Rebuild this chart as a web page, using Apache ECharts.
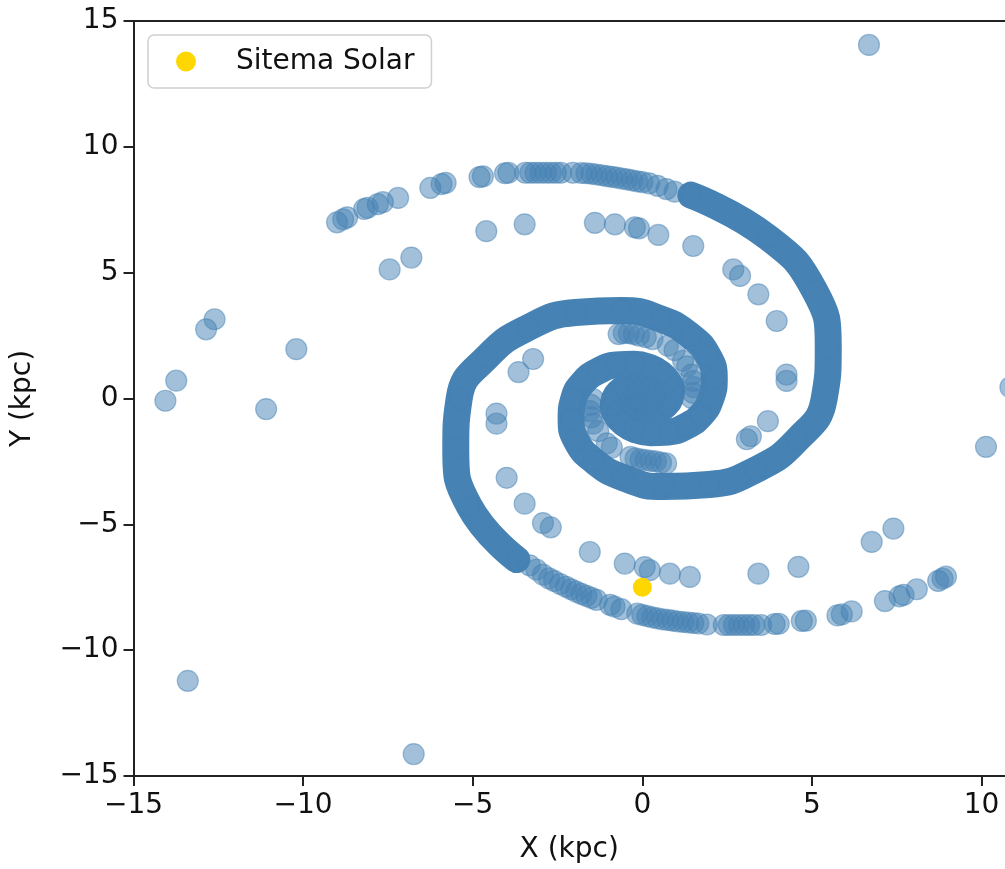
<!DOCTYPE html>
<html>
<head>
<meta charset="utf-8">
<script src="https://cdn.jsdelivr.net/npm/echarts@6/dist/echarts.min.js"></script>
<style>
html,body{margin:0;padding:0;background:#fff;}
#chart{width:1005px;height:869px;}
</style>
</head>
<body>
<div id="chart"></div>
<script>
// ---- tick labels ----
const xTicks = [-15, -10, -5, 0, 5, 10];
const yTicks = [-15, -10, -5, 0, 5, 10, 15];
const xVisibleMax = 10.69; // the picture is cut just past x = 10

// ---- dense arm B (centre -> out, passing the right side) ----
const armBDense = [[0.12,0.00],[0.13,0.05],[0.12,0.10],[0.085,0.15],[0.03,0.19],[-0.04,0.21],[-0.12,0.20],[-0.20,0.17],[-0.27,0.10],[-0.32,0.00],[-0.33,-0.12],[-0.30,-0.25],[-0.22,-0.38],[-0.08,-0.48],[0.09,-0.53],[0.30,-0.52],[0.51,-0.43],[0.69,-0.25],[0.82,0.00],[0.86,0.31],[0.77,0.65],[0.56,0.97],[0.22,1.23],[-0.24,1.36],[-0.77,1.33],[-1.29,1.10],[-1.74,0.65],[-2.02,0.00],[-2.10,-0.80],[-1.95,-1.67],[-1.42,-2.49],[-0.56,-3.15],[0.62,-3.50],[1.97,-3.42],[3.36,-2.82],[4.55,-1.66],[5.36,0.00],[5.48,2.00],[5.08,4.28],[3.70,6.40],[1.43,8.08]];

// ---- dense arm A (centre -> out, passing the left side) ----
const armADense = [[-0.12,0.00],[-0.13,-0.05],[-0.12,-0.10],[-0.085,-0.15],[-0.03,-0.19],[0.04,-0.21],[0.12,-0.20],[0.20,-0.17],[0.27,-0.10],[0.32,0.00],[0.33,0.12],[0.30,0.25],[0.22,0.38],[0.08,0.48],[-0.09,0.53],[-0.30,0.52],[-0.51,0.43],[-0.69,0.25],[-0.82,0.00],[-0.86,-0.31],[-0.77,-0.65],[-0.56,-0.97],[-0.22,-1.23],[0.24,-1.36],[0.77,-1.33],[1.29,-1.10],[1.74,-0.65],[2.02,0.00],[2.12,0.80],[1.95,1.67],[1.42,2.49],[0.56,3.15],[-0.62,3.50],[-1.97,3.42],[-3.36,2.82],[-4.57,1.66],[-5.40,0.00],[-5.50,-2.00],[-5.10,-4.28],[-3.70,-6.40]];

// ---- sparse outer part of arm B (top) ----
const armBOuter = [[0.95,8.22],[0.71,8.32],[0.45,8.45],[0.2,8.55],[0.0,8.6],[-0.15,8.63],[-0.3,8.67],[-0.45,8.71],[-0.6,8.74],[-0.75,8.78],[-0.9,8.81],[-1.05,8.84],[-1.2,8.87],[-1.35,8.9],[-1.5,8.93],[-1.65,8.95],[-1.8,8.96],[-2.05,8.97],[-2.4,8.97],[-2.55,8.97],[-2.7,8.97],[-2.85,8.97],[-3.0,8.97],[-3.15,8.97],[-3.3,8.97],[-3.45,8.97],[-3.95,8.97],[-4.05,8.95],[-4.7,8.83],[-4.8,8.8],[-5.8,8.57],[-5.92,8.52],[-6.25,8.37],[-7.2,7.97],[-7.65,7.8],[-7.8,7.72],[-8.1,7.58],[-8.2,7.53],[-8.7,7.2],[-8.82,7.12],[-9.0,7.0]];

// ---- sparse outer part of arm A (bottom) ----
const armAOuter = [[-3.32,-6.63],[-3.12,-6.8],[-2.93,-7.0],[-2.75,-7.15],[-2.6,-7.25],[-2.42,-7.37],[-2.25,-7.48],[-2.1,-7.58],[-1.95,-7.67],[-1.8,-7.76],[-1.65,-7.84],[-1.5,-7.92],[-1.35,-8.0],[-0.95,-8.2],[-0.82,-8.27],[-0.62,-8.37],[-0.15,-8.55],[0.0,-8.6],[0.15,-8.65],[0.3,-8.7],[0.45,-8.74],[0.6,-8.78],[0.75,-8.8],[0.9,-8.83],[1.05,-8.86],[1.2,-8.88],[1.35,-8.9],[1.5,-8.92],[1.65,-8.94],[1.9,-8.98],[2.4,-9.0],[2.55,-9.0],[2.7,-9.0],[2.85,-9.0],[3.0,-9.0],[3.15,-9.0],[3.3,-9.0],[3.5,-9.0],[3.9,-8.96],[4.02,-8.95],[4.7,-8.84],[4.82,-8.83],[5.75,-8.62],[5.88,-8.58],[6.17,-8.46],[7.15,-8.05],[7.58,-7.86],[7.7,-7.8],[8.09,-7.58],[8.72,-7.25],[8.85,-7.16],[8.95,-7.08]];

// ---- scattered stars inside the two crescent gaps around the core ----
const gapStars = [[-0.7,2.56],[-0.55,2.6],[-0.4,2.6],[-0.25,2.56],[-0.1,2.5],[0.1,2.44],[0.3,2.36],[0.75,2.1],[0.95,1.92],[1.2,1.5],[1.32,1.28],[1.45,0.95],[1.5,0.7],[1.52,0.45],[1.5,0.22],[1.45,0.02],
  [-1.45,-0.02],[-1.52,-0.25],[-1.55,-0.5],[-1.5,-0.75],[-1.45,-1.0],[-1.3,-1.3],[-1.05,-1.78],[-0.9,-1.95],[-0.35,-2.32],[-0.2,-2.38],[-0.05,-2.42],[0.1,-2.45],[0.25,-2.48],[0.4,-2.5],[0.55,-2.55],[0.7,-2.58]];

// ---- second row of stars between the arms ----
const midStars = [[-3.22,1.57],[-3.65,1.05],[-4.3,-0.6],[-4.3,-1.0],[-4.0,-3.15],[-3.47,-4.18],[-2.93,-4.95],[-2.7,-5.12],[3.96,3.08],[4.25,0.95],[4.25,0.7],[3.7,-0.9],[3.2,-1.5],[3.08,-1.62],[-4.6,6.65],[-3.47,6.92],[-1.4,6.98],[-0.81,6.92],[-0.22,6.8],[-0.1,6.76],[0.47,6.5],[1.5,6.06],[2.68,5.13],[2.88,4.87],[3.42,4.14],[-1.55,-6.1],[-0.52,-6.56],[0.07,-6.7],[0.22,-6.82],[0.81,-6.96],[1.4,-7.09],[3.42,-6.96],[4.6,-6.69],[6.76,-5.7],[7.4,-5.17],[-7.45,5.13],[-6.81,5.6]];

// ---- far outliers ----
const farStars = [[6.68,14.05],[10.13,-1.92],[10.85,0.45],[-12.61,3.15],[-12.86,2.75],[-10.2,1.96],[-13.74,0.71],[-14.06,-0.09],[-11.09,-0.42],[-13.4,-11.22],[-6.74,-14.13]];

// ---- solar system ----
const solarSystem = [[0, -7.5]];

const BLUE = '#4682B4';
const FONT = 'DejaVu Sans';
const TXT = '#111111';
const AX = '#222222';
const fmt = v => String(v).replace('-', '\u2212');

const chart = echarts.init(document.getElementById('chart'), null, {renderer: 'canvas'});

const starStyle = {color: BLUE, opacity: 0.5, borderColor: BLUE, borderWidth: 1.2};

function armLine(data) {
  return {
    type: 'line', data: data, smooth: true, showSymbol: false, silent: true,
    lineStyle: {color: BLUE, width: 27, cap: 'round', join: 'round'},
    z: 1
  };
}
function stars(data, clip) {
  return {
    type: 'scatter', data: data, symbol: 'circle', symbolSize: 21, silent: true,
    clip: clip !== false, itemStyle: starStyle, z: 2
  };
}

chart.setOption({
  animation: false,
  backgroundColor: '#ffffff',
  grid: {left: 133.5, top: 21, bottom: 91, right: 0, show: false, containLabel: false},
  xAxis: [{
    type: 'value', position: 'bottom', min: xTicks[0], max: xVisibleMax, interval: xTicks[1] - xTicks[0],
    name: 'X (kpc)', nameLocation: 'middle', nameGap: 60,
    nameTextStyle: {fontFamily: FONT, fontSize: 28, color: TXT},
    axisLine: {show: true, onZero: false, lineStyle: {color: AX, width: 2}},
    axisTick: {show: true, inside: false, length: 10, lineStyle: {color: AX, width: 2},
      customValues: xTicks},
    axisLabel: {margin: 16, fontFamily: FONT, fontSize: 28, color: TXT, showMaxLabel: false,
      formatter: v => xTicks.includes(v) ? fmt(v) : ''},
    splitLine: {show: false}
  }, {
    type: 'value', position: 'top', min: xTicks[0], max: xVisibleMax,
    axisLine: {show: true, onZero: false, lineStyle: {color: AX, width: 2}},
    axisTick: {show: false}, axisLabel: {show: false}, splitLine: {show: false}
  }],
  yAxis: {
    type: 'value', min: yTicks[0], max: yTicks[yTicks.length - 1], interval: yTicks[1] - yTicks[0],
    name: 'Y (kpc)', nameLocation: 'middle', nameGap: 97,
    nameTextStyle: {fontFamily: FONT, fontSize: 28, color: TXT},
    axisLine: {show: true, onZero: false, lineStyle: {color: AX, width: 2}},
    axisTick: {show: true, inside: false, length: 10, lineStyle: {color: AX, width: 2}},
    axisLabel: {margin: 15, fontFamily: FONT, fontSize: 28, color: TXT, formatter: v => fmt(v)},
    splitLine: {show: false}
  },
  legend: {
    data: ['Sitema Solar'], left: 148, top: 35, orient: 'vertical',
    padding: [12.5, 17, 12.5, 28], itemWidth: 20, itemHeight: 20,
    backgroundColor: '#ffffff', borderColor: '#d0d0d0', borderWidth: 1.5, borderRadius: 6,
    selectedMode: false,
    textStyle: {fontFamily: FONT, fontSize: 28, color: TXT, padding: [0, 0, 0, 35]}
  },
  series: [
    armLine(armBDense),
    armLine(armADense),
    stars(armBDense),
    stars(armADense),
    stars(armBOuter),
    stars(armAOuter),
    stars(gapStars),
    stars(midStars),
    stars(farStars, false),
    {
      name: 'Sitema Solar', type: 'scatter', data: solarSystem, symbol: 'circle', symbolSize: 19,
      itemStyle: {color: '#FFD700', opacity: 1}, z: 5, silent: true
    }
  ]
});
</script>
</body>
</html>
